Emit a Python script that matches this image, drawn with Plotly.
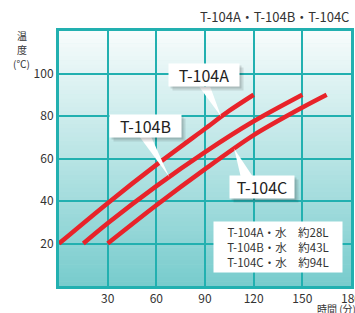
import plotly.graph_objects as go

# ---- data ----
a_x = [0, 30, 60, 90, 105, 120]
a_y = [20, 39, 57, 74, 82.5, 90]
b_x = [15, 30, 60, 90, 120, 150]
b_y = [20, 29.5, 47, 63, 77.5, 90]
c_x = [30, 60, 90, 120, 150, 165]
c_y = [20, 38, 55, 71, 84, 90]
series_names = ["T-104A", "T-104B", "T-104C"]
x_ticks = [30, 60, 90, 120, 150, 180]
y_ticks = [20, 40, 60, 80, 100]
title_text = "T-104A・T-104B・T-104C"
legend_lines = ["T-104A・水　約28L", "T-104B・水　約43L", "T-104C・水　約94L"]
x_title = "時間 (分)"
y_title_parts = ["温", "度", "(℃)"]

FONT = "Noto Sans CJK JP, Roboto, sans-serif"
RED = "#e8232a"
TEAL = "#22b0b0"
TXT = "#333333"

fig = go.Figure()
for xs, ys, nm in [(a_x, a_y, series_names[0]), (b_x, b_y, series_names[1]), (c_x, c_y, series_names[2])]:
    fig.add_trace(go.Scatter(x=xs, y=ys, mode="lines", name=nm,
                             line=dict(color=RED, width=4.5, shape="spline", smoothing=0.8),
                             showlegend=False, hoverinfo="skip"))

# gradient background
shapes = []
N = 60
top = (248, 252, 252)
bot = (120, 204, 205)
for i in range(N):
    t = (i + 0.5) / N
    col = tuple(int(round(top[k] + (bot[k] - top[k]) * t)) for k in range(3))
    shapes.append(dict(type="rect", xref="x domain", yref="y domain",
                       x0=0, x1=1, y0=1 - (i + 1) / N, y1=1 - i / N + 0.002,
                       fillcolor="rgb(%d,%d,%d)" % col, line=dict(width=0), layer="below"))

def pointer(xa, ya, pts):
    path = "M 0,0 " + " ".join("L %g,%g" % p for p in pts) + " Z"
    return dict(type="path", xref="x", yref="y", xsizemode="pixel", ysizemode="pixel",
                xanchor=xa, yanchor=ya, path=path, fillcolor="white",
                line=dict(width=0), layer="above")

def interp(xs, ys, x):
    for i in range(len(xs) - 1):
        if xs[i] <= x <= xs[i + 1]:
            t = (x - xs[i]) / (xs[i + 1] - xs[i])
            return ys[i] + t * (ys[i + 1] - ys[i])
    return ys[-1]

shapes.append(pointer(100, interp(a_x, a_y, 100), [(-22, 30), (-11, 30)]))
shapes.append(pointer(68, interp(b_x, b_y, 68), [(-31, 42), (-19, 42)]))
shapes.append(pointer(108, interp(c_x, c_y, 108), [(7, -30), (20, -30)]))

annotations = []

def box(x, y, text, w, h, size):
    for dx, dy, a in [(4, -4, 0.10), (2, -2, 0.12)]:
        annotations.append(dict(x=x, y=y, xref="x", yref="y", text="", showarrow=False,
                                width=w, height=h, bgcolor="rgba(0,0,0,%g)" % a,
                                xshift=dx, yshift=dy, borderpad=2))
    annotations.append(dict(x=x, y=y, xref="x", yref="y", text=text, showarrow=False,
                            width=w, height=h, bgcolor="white", borderpad=2,
                            font=dict(family=FONT, size=size, color="#222222")))

box(89.1, 99.3, series_names[0], 66, 18, 16)
box(53.2, 75.5, series_names[1], 67, 18, 16)
box(125.2, 46.4, series_names[2], 60, 18, 16)

annotations.append(dict(x=135, y=18.4, xref="x", yref="y", text="<br>".join(legend_lines),
                        showarrow=False, width=124, height=46, bgcolor="white", borderpad=2,
                        align="center", font=dict(family=FONT, size=11.5, color=TXT)))

annotations.append(dict(x=1.0, y=1.055, xref="paper", yref="paper", text=title_text,
                        showarrow=False, xanchor="right", yanchor="middle",
                        font=dict(family=FONT, size=13, color=TXT)))
for i, (part, yp) in enumerate(zip(y_title_parts, [0.982, 0.929, 0.874])):
    annotations.append(dict(x=-0.127, y=yp, xref="paper", yref="paper", text=part,
                            showarrow=False, xanchor="center", yanchor="middle",
                            font=dict(family=FONT, size=10, color=TXT)))
annotations.append(dict(x=0.877, y=-0.088, xref="paper", yref="paper", text=x_title,
                        showarrow=False, xanchor="left", yanchor="middle",
                        font=dict(family=FONT, size=10, color=TXT)))

fig.update_layout(
    width=355, height=313,
    margin=dict(l=59, r=4, t=31, b=27),
    paper_bgcolor="white", plot_bgcolor="rgb(200,230,230)",
    shapes=shapes, annotations=annotations,
    font=dict(family=FONT, size=12, color=TXT),
)
fig.update_xaxes(range=[0, 180], tickvals=x_ticks, showgrid=True, gridcolor=TEAL, gridwidth=1.5,
                 showline=True, linecolor=TEAL, linewidth=3, mirror=True, zeroline=False,
                 ticks="", ticklabeloverflow="allow", automargin=False,
                 tickfont=dict(family=FONT, size=12, color=TXT), fixedrange=True)
fig.update_yaxes(range=[0, 120], tickvals=y_ticks, showgrid=True, gridcolor=TEAL, gridwidth=1.5,
                 showline=True, linecolor=TEAL, linewidth=3, mirror=True, zeroline=False,
                 ticks="", automargin=False,
                 tickfont=dict(family=FONT, size=12, color=TXT), fixedrange=True)

fig.write_html("out.html", config={"displayModeBar": False},
               post_script="document.body.style.margin='0';document.body.style.overflow='hidden';")
